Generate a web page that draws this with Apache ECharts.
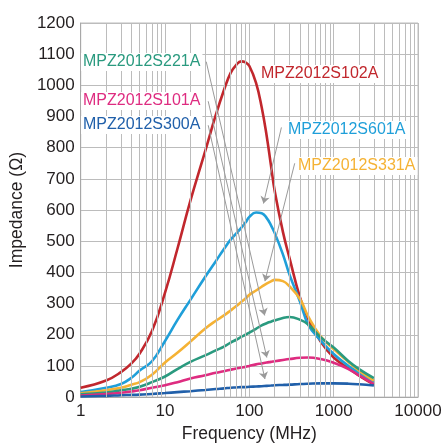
<!DOCTYPE html>
<html>
<head>
<meta charset="utf-8">
<script src="https://cdn.jsdelivr.net/npm/echarts@6/dist/echarts.min.js"></script>
<style>html,body{margin:0;padding:0;background:#fff}#c{width:446px;height:448px}</style>
</head>
<body>
<div id="c"></div>
<script>
// ---- data ----
var freq  = [1,2,3,4,5,7,10,14,20,30,40,50,60,70,80,90,100,120,140,160,180,200,250,300,400,500,700,1000,1500,2000,3000];
var s102A = [30,53,80,108,140,212,335,475,630,790,905,985,1040,1066,1077,1074,1062,1008,930,840,745,660,530,445,318,250,178,127,92,69,40];
var s601A = [16,30,42,62,85,115,180,247,312,386,436,475,505,525,543,560,578,592,590,575,552,526,458,392,305,232,182,138,100,78,48];
var s331A = [12,22,30,40,48,72,111,142,178,220,245,262,278,292,305,316,328,342,354,364,371,376,372,355,314,258,195,154,112,85,53];
var s221A = [9,15,22,27,33,48,66,90,113,134,150,162,175,184,193,200,207,219,230,237,242,246,254,257,248,233,192,159,115,90,61];
var s101A = [5,10,14,18,22,30,38,48,60,70,78,83,88,92,95,97,100,105,108,111,113,115,119,122,126,127,122,110,90,70,42];
var s300A = [2,4,6,7,8,10,13,16,19,23,26,28,30,31,32,32,33,34,35,36,37,38,39,40,42,43,44,44,43,41,37];
var seriesNames = ['MPZ2012S102A','MPZ2012S601A','MPZ2012S331A','MPZ2012S221A','MPZ2012S101A','MPZ2012S300A'];
var xTickLabels = ['1','10','100','1000','10000'];
var yTicks = [0,100,200,300,400,500,600,700,800,900,1000,1100,1200];

var colors = ['#c1272d','#1f9fd9','#f5b234','#2a9a7f','#de2c80','#2160aa'];
var allSeries = [s102A,s601A,s331A,s221A,s101A,s300A];

// minor log grid positions (2..9 per decade)
var minor = [];
[1,10,100,1000].forEach(function(d){ for (var k=2;k<=9;k++) minor.push(k*d); });

// leader arrows, in data coordinates [freq, impedance]
var leaders = [
  [[30.8,1076],[152,262]],
  [[32.5,949],[161,127]],
  [[32.5,872],[153,58]],
  [[240,865],[147,621]],
  [[345,750],[153,372]]
];

var gridColor = '#bcbcbc';
var font = "'Liberation Sans', Arial, sans-serif";

var series = allSeries.map(function(vals, i){
  return {
    name: seriesNames[i], type:'line', smooth:0.45, showSymbol:false, z:4,
    lineStyle:{color:colors[i], width:2.6}, itemStyle:{color:colors[i]},
    data: freq.map(function(f,j){ return [f, vals[j]]; })
  };
});
series.unshift({
  type:'line', data:[], z:1, silent:true,
  markLine:{silent:true, symbol:['none','none'], animation:false,
    label:{show:false}, lineStyle:{color:gridColor, width:1, type:'solid'},
    data: minor.map(function(v){ return {xAxis:v}; })}
});
series.push({
  type:'line', data:[], z:3, silent:true,
  markLine:{silent:true, symbol:['none','arrow'], symbolSize:7, animation:false,
    label:{show:false}, lineStyle:{color:'#9a9a9a', width:1, type:'solid'},
    itemStyle:{color:'#9a9a9a'},
    data: leaders.map(function(l){ return [{coord:l[0]},{coord:l[1]}]; })}
});

var labelDefs = [
  {t:seriesNames[3], c:'#2a9a7f', x:81, y:62},
  {t:seriesNames[4], c:'#de2c80', x:81, y:101},
  {t:seriesNames[5], c:'#2160aa', x:81, y:125},
  {t:seriesNames[0], c:'#c1272d', x:259, y:74},
  {t:seriesNames[1], c:'#1f9fd9', x:286, y:130},
  {t:seriesNames[2], c:'#f5b234', x:296, y:166}
];

var chart = echarts.init(document.getElementById('c'), null, {renderer:'canvas'});
chart.setOption({
  animation:false,
  backgroundColor:'#fff',
  grid:{left:77, top:23, width:341, height:377, show:true, borderColor:gridColor, borderWidth:1},
  xAxis:{type:'log', logBase:10, min:1, max:10000,
    name:'Frequency (MHz)', nameLocation:'middle', nameGap:26,
    nameTextStyle:{fontSize:17.5, color:'#231f20', fontFamily:font},
    axisLine:{show:true, lineStyle:{color:'#a8a8a8'}}, axisTick:{show:false},
    axisLabel:{fontSize:17, color:'#231f20', fontFamily:font, margin:6,
      formatter:function(v){ var i=Math.round(Math.log10(v)); return xTickLabels[i]||''; }},
    splitLine:{show:true, lineStyle:{color:gridColor, width:1}}},
  yAxis:{type:'value', min:0, max:1200, interval:100,
    name:'Impedance (Ω)', nameLocation:'middle', nameGap:47,
    nameTextStyle:{fontSize:17.5, color:'#231f20', fontFamily:font},
    axisLine:{show:true, lineStyle:{color:'#a8a8a8'}}, axisTick:{show:false},
    axisLabel:{fontSize:17, color:'#231f20', fontFamily:font, margin:6,
      formatter:function(v){ return yTicks.indexOf(v)>=0 ? String(v) : ''; }},
    splitLine:{show:true, lineStyle:{color:gridColor, width:1}}},
  series: series,
  graphic: labelDefs.map(function(d){
    return {type:'text', x:d.x, y:d.y, z:10,
      style:{text:d.t, fill:d.c, fontSize:16, fontFamily:font,
        verticalAlign:'middle', align:'left', backgroundColor:'#fff', padding:[1,2]}};
  })
});
</script>
</body>
</html>
